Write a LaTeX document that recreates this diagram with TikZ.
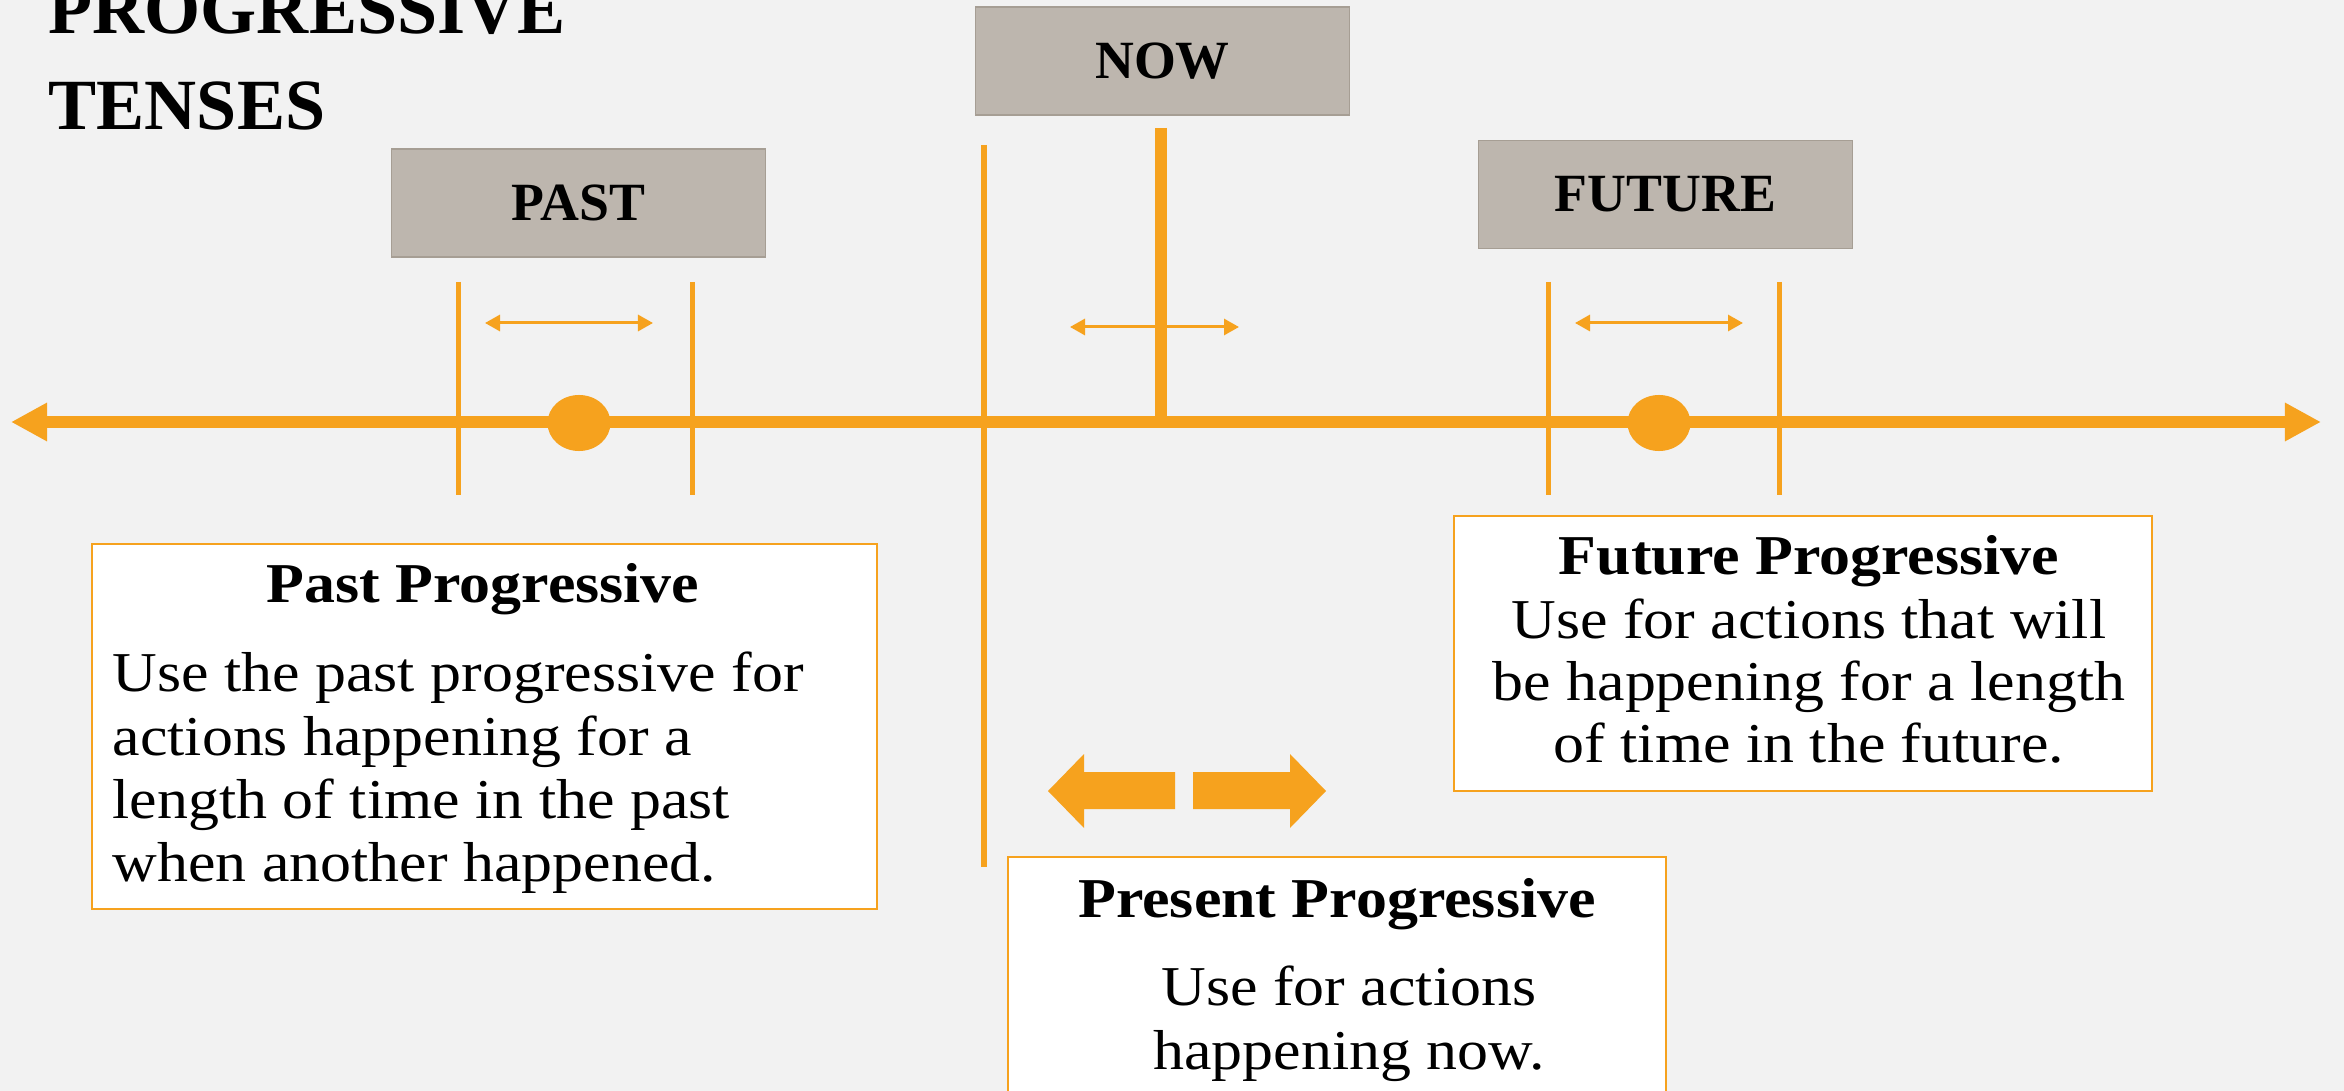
\documentclass[tikz,border=0pt]{standalone}
\usepackage{fontspec}
\setmainfont{Liberation Serif}
\newfontfamily\widefont{Liberation Serif}[FakeStretch=1.1]
\usetikzlibrary{arrows.meta, positioning, shapes.geometric}
\tikzset{>={Triangle[width=0.16cm,length=0.15cm]}}
\definecolor{tlorange}{HTML}{F6A21E}
\definecolor{tlgray}{HTML}{BDB6AE}
\definecolor{tlgrayline}{HTML}{A69E94}
\definecolor{tlback}{HTML}{F2F2F2}

\begin{document}
\begin{tikzpicture}[
    x = 0.01cm, y = -0.01cm,
    axis/.style = {draw=tlorange, line width=0.12cm,
        {Triangle[width=0.36cm,length=0.36cm]}-{Triangle[width=0.36cm,length=0.36cm]}},
    tick/.style = {draw=tlorange, line width=0.05cm},
    span/.style = {draw=tlorange, line width=0.03cm, <->},
    dot/.style = {ellipse, fill=tlorange, minimum width=0.63cm,
        minimum height=0.56cm, inner sep=0pt},
    tagbox/.style = {draw=tlgrayline, fill=tlgray, line width=0.015cm,
        minimum width=3.74cm, minimum height=1.08cm, inner sep=0pt,
        font=\fontsize{15.3}{18}\selectfont\bfseries},
    infobox/.style = {draw=tlorange, fill=white, line width=0.025cm, inner sep=0pt},
    title/.style = {inner sep=0pt, font=\fontsize{20.5}{25}\selectfont\bfseries},
    head/.style = {inner sep=0pt, font=\widefont\fontsize{16}{19}\selectfont\bfseries},
    body/.style = {inner sep=0pt, font=\widefont\fontsize{16}{19}\selectfont}
  ]
  \fill[tlback] (0,0) rectangle (2344,1091);
  \useasboundingbox (0,0) rectangle (2344,1091);

  \node[title, anchor=base west] (TITLE) at (48,34) {PROGRESSIVE};
  \node[title, anchor=base west] (TITLE2) at (48,130) {TENSES};

  \node[tagbox] (PAST) at (578.5,203) {PAST};
  \node[tagbox] (NOW) at (1162.5,61) {NOW};
  \node[tagbox] (FUTURE) at (1665.5,194.5) {FUTURE};

  \coordinate (AXL) at (11,422);
  \coordinate (AXR) at (2321,422);
  \draw[axis] (AXL) -- (AXR);

  \draw[draw=tlorange, line width=0.12cm] (1161,128) -- (1161,422);
  \draw[draw=tlorange, line width=0.06cm] (984,145) -- (984,867);
  \foreach \x in {458, 692, 1548, 1779}
  \draw[tick] (\x,282) -- (\x,495);

  \draw[span] (485,323) -- (653,323);
  \draw[span] (1070,327) -- (1239,327);
  \draw[span] (1575,323) -- (1743,323);

  \node[dot] (PASTDOT) at (579,423) {};
  \node[dot] (FUTUREDOT) at (1659,423) {};

  \fill[tlorange] (1175,772) -- (1084,772) -- (1084,754) -- (1048,791)
    -- (1084,828) -- (1084,809) -- (1175,809) -- cycle;
  \fill[tlorange] (1193,772) -- (1290,772) -- (1290,754) -- (1326,791)
    -- (1290,828) -- (1290,809) -- (1193,809) -- cycle;

  \node[infobox, minimum width=7.85cm, minimum height=3.65cm] (PASTBOX) at (484.5,726.5) {};
  \node[infobox, minimum width=6.98cm, minimum height=2.75cm] (FUTUREBOX) at (1803,653.5) {};
  \node[infobox, minimum width=6.58cm, minimum height=2.93cm] (NOWBOX) at (1337,1003.5) {};

  \node[head, anchor=base] (PASTHEAD) at (483,602) {Past Progressive};
  \foreach \t [count=\i from 0] in {Use the past progressive for, actions happening for a,
      length of time in the past, when another happened.}
  \node[body, anchor=base west] (PASTTXT\i) at (112,{692+63*\i}) {\t};

  \node[head, anchor=base] (FUTUREHEAD) at (1809,574) {Future Progressive};
  \foreach \t [count=\i from 0] in {Use for actions that will, be happening for a length,
      of time in the future.}
  \node[body, anchor=base] (FUTURETXT\i) at (1809,{638+62*\i}) {\t};

  \node[head, anchor=base] (NOWHEAD) at (1337,917) {Present Progressive};
  \foreach \t [count=\i from 0] in {Use for actions, happening now.}
  \node[body, anchor=base] (NOWTXT\i) at (1349,{1005+64*\i}) {\t};
\end{tikzpicture}
\end{document}
